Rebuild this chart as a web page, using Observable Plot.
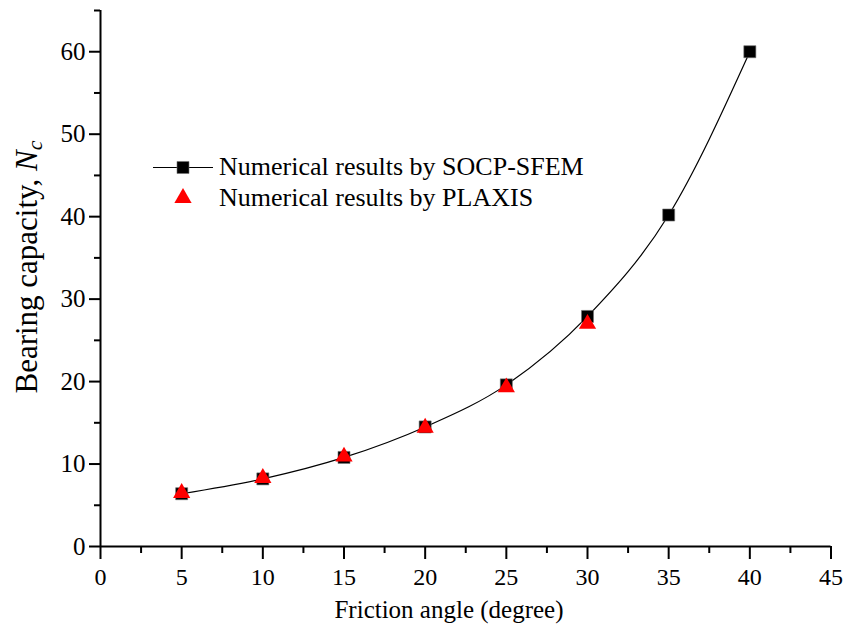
<!DOCTYPE html>
<html>
<head>
<meta charset="utf-8">
<script src="https://cdn.jsdelivr.net/npm/d3@7"></script>
<script src="https://cdn.jsdelivr.net/npm/@observablehq/plot@0.6"></script>
<style>
  html, body { margin: 0; padding: 0; background: #fff; }
  #chart { width: 845px; height: 631px; }
</style>
</head>
<body>
<div id="chart"></div>
<script>
// Friction angle (degrees) and bearing capacity factor Nc
const angleSfem = [5, 10, 15, 20, 25, 30, 35, 40];
const ncSfem = [6.4, 8.2, 10.8, 14.5, 19.6, 27.9, 40.2, 60.0];

const anglePlaxis = [5, 10, 15, 20, 25, 30];
const ncPlaxis = [6.5, 8.3, 10.9, 14.4, 19.3, 27.0];

const xMajorTicks = [0, 5, 10, 15, 20, 25, 30, 35, 40, 45];
const xMinorTicks = [2.5, 7.5, 12.5, 17.5, 22.5, 27.5, 32.5, 37.5, 42.5];
const yMajorTicks = [0, 10, 20, 30, 40, 50, 60];
const yMinorTicks = [5, 15, 25, 35, 45, 55, 65];

const seriesNames = ["Numerical results by SOCP-SFEM", "Numerical results by PLAXIS"];

const sfem = angleSfem.map((a, i) => ({angle: a, nc: ncSfem[i]}));
const plaxis = anglePlaxis.map((a, i) => ({angle: a, nc: ncPlaxis[i]}));

const FONT = "'Liberation Serif', 'Times New Roman', Times, serif";

const W = 845, H = 631;
const mL = 100, mR = 14.5, mT = 10, mB = 85;

const svg = Plot.plot({
  width: W,
  height: H,
  marginLeft: mL,
  marginRight: mR,
  marginTop: mT,
  marginBottom: mB,
  style: {fontFamily: FONT, fontSize: "24px", color: "#000", background: "#fff", overflow: "visible"},
  x: {domain: [0, 45]},
  y: {domain: [0, 65]},
  marks: [
    // minor ticks
    Plot.axisX(xMinorTicks, {tickSize: 7, strokeWidth: 2, tickFormat: () => "", label: null}),
    Plot.axisY(yMinorTicks, {tickSize: 6, strokeWidth: 2, tickFormat: () => "", label: null}),
    // major ticks with labels
    Plot.axisX(xMajorTicks, {tickSize: 13, tickPadding: 8, strokeWidth: 2, fontSize: 24, label: null}),
    Plot.axisY(yMajorTicks, {tickSize: 11, tickPadding: 4, strokeWidth: 2, fontSize: 25, label: null}),
    // axis lines
    Plot.ruleX([0], {stroke: "#000", strokeWidth: 2}),
    Plot.ruleY([0], {stroke: "#000", strokeWidth: 2}),
    // SOCP-SFEM curve and markers
    Plot.line(sfem, {x: "angle", y: "nc", curve: "monotone-x", stroke: "#000", strokeWidth: 1.2}),
    Plot.dot(sfem, {x: "angle", y: "nc", symbol: "square", r: 6.8, fill: "#000", stroke: "#777", strokeWidth: 0.6}),
    // PLAXIS markers
    Plot.dot(plaxis, {x: "angle", y: "nc", symbol: "triangle", r: 6.4, fill: "#ff0000", stroke: "none"})
  ]
});

document.getElementById("chart").appendChild(svg);

const s = d3.select(svg);

// x-axis title
s.append("text")
  .attr("x", 449)
  .attr("y", 618)
  .attr("text-anchor", "middle")
  .attr("font-family", FONT)
  .attr("font-size", 25)
  .attr("fill", "#000")
  .text("Friction angle (degree)");

// y-axis title with italic subscripted N_c
const yt = s.append("text")
  .attr("transform", "translate(37,267) rotate(-90)")
  .attr("text-anchor", "middle")
  .attr("font-family", FONT)
  .attr("font-size", 31)
  .attr("fill", "#000");
yt.append("tspan").text("Bearing capacity, ");
yt.append("tspan").attr("font-style", "italic").text("N");
yt.append("tspan").attr("font-style", "italic").attr("font-size", 22).attr("dy", 5).text("c");

// legend
const lg = s.append("g")
  .attr("font-family", FONT)
  .attr("font-size", 26)
  .attr("text-anchor", "start")
  .attr("fill", "#000");
lg.append("line")
  .attr("x1", 153).attr("x2", 213).attr("y1", 167.5).attr("y2", 167.5)
  .attr("stroke", "#000").attr("stroke-width", 1.2);
lg.append("path")
  .attr("transform", "translate(183,167.5)")
  .attr("d", d3.symbol(d3.symbolSquare, Math.PI * 6.8 * 6.8)())
  .attr("fill", "#000").attr("stroke", "#777").attr("stroke-width", 0.6);
lg.append("path")
  .attr("transform", "translate(183,198)")
  .attr("d", d3.symbol(d3.symbolTriangle, Math.PI * 6.4 * 6.4)())
  .attr("fill", "#ff0000");
lg.append("text").attr("x", 219).attr("y", 175).text(seriesNames[0]);
lg.append("text").attr("x", 219).attr("y", 206).text(seriesNames[1]);
</script>
</body>
</html>
